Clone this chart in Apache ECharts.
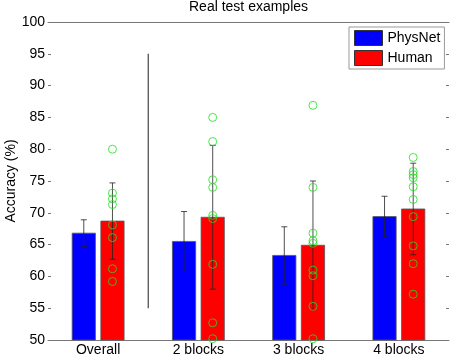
<!DOCTYPE html>
<html>
<head>
<meta charset="utf-8">
<script src="https://cdn.jsdelivr.net/npm/echarts@6/dist/echarts.min.js"></script>
<style>
  html, body { margin: 0; padding: 0; background: #fff; }
  #chart { width: 457px; height: 362px; }
</style>
</head>
<body>
<div id="chart"></div>
<script>
// data
var categories = ['Overall', '2 blocks', '3 blocks', '4 blocks'];
var catX = [1, 2, 3, 4];
var physnetMean = [66.8, 65.5, 63.3, 69.4];
var physnetErr = [2.1, 4.7, 4.5, 3.2];
var humanMean = [68.7, 69.3, 64.9, 70.6];
var humanErr = [6.0, 11.3, 10.1, 7.2];
var humanSubjects = [
    [80.0, 73.1, 72.2, 71.3, 68.1, 66.1, 61.2, 59.2],
    [85.0, 81.2, 75.2, 74.0, 69.6, 69.1, 61.9, 52.7, 50.2],
    [86.9, 74.0, 66.8, 65.6, 65.2, 61.0, 60.1, 55.3, 50.2],
    [78.7, 76.5, 76.0, 75.5, 74.1, 72.1, 69.4, 64.8, 62.0, 57.2]
];
var dividerX = [1.5, 1.5];
var dividerY = [55, 95];

var FONT = 'Liberation Sans, Arial, Helvetica, sans-serif';
var BAR_OFFSET = 0.143;
var BAR_W = 0.232;

var chart = echarts.init(document.getElementById('chart'));

// bar + error bar drawn through the axes
function barWithError(offset, fillColor) {
    return function (params, api) {
        var x = api.value(0) + offset;
        var mean = api.value(1);
        var err = api.value(2);
        var tl = api.coord([x - BAR_W / 2, mean]);
        var br = api.coord([x + BAR_W / 2, 50]);
        var top = api.coord([x, mean + err]);
        var bot = api.coord([x, mean - err]);
        var cap = 3;
        var errStyle = { stroke: '#222', lineWidth: 0.8 };
        return {
            type: 'group',
            children: [
                {
                    type: 'rect',
                    shape: { x: tl[0], y: tl[1], width: br[0] - tl[0], height: br[1] - tl[1] },
                    style: { fill: fillColor, stroke: '#555', lineWidth: 0.8 }
                },
                { type: 'line', shape: { x1: top[0], y1: top[1], x2: bot[0], y2: bot[1] }, style: errStyle },
                { type: 'line', shape: { x1: top[0] - cap, y1: top[1], x2: top[0] + cap, y2: top[1] }, style: errStyle },
                { type: 'line', shape: { x1: bot[0] - cap, y1: bot[1], x2: bot[0] + cap, y2: bot[1] }, style: errStyle }
            ]
        };
    };
}

var physnetData = catX.map(function (x, i) { return [x, physnetMean[i], physnetErr[i]]; });
var humanData = catX.map(function (x, i) { return [x, humanMean[i], humanErr[i]]; });
var subjectData = [];
humanSubjects.forEach(function (vals, i) {
    vals.forEach(function (v) { subjectData.push([catX[i] + BAR_OFFSET, v]); });
});

var option = {
    animation: false,
    textStyle: { fontFamily: FONT },
    title: {
        text: 'Real test examples',
        left: 189,
        top: 0,
        padding: 0,
        textStyle: { fontSize: 14, fontWeight: 'normal', color: '#000', fontFamily: FONT }
    },
    legend: {
        orient: 'vertical',
        left: 349,
        top: 27,
        padding: [3, 4, 3, 5],
        itemWidth: 28,
        itemHeight: 15,
        itemGap: 4,
        backgroundColor: '#fff',
        borderColor: '#999',
        borderWidth: 1,
        borderRadius: 0,
        textStyle: { fontSize: 14, color: '#000', fontFamily: FONT },
        data: [
            { name: 'PhysNet', icon: 'rect', itemStyle: { color: '#0000ff', borderColor: '#333', borderWidth: 1 } },
            { name: 'Human', icon: 'rect', itemStyle: { color: '#ff0000', borderColor: '#333', borderWidth: 1 } }
        ]
    },
    grid: { left: 48, right: 8, top: 22, bottom: 22, containLabel: false, outerBoundsMode: 'none' },
    xAxis: [
        {
            type: 'value',
            min: 0.5,
            max: 4.5,
            interval: 0.5,
            splitLine: { show: false },
            axisLine: { show: true, lineStyle: { color: '#777', width: 1 } },
            axisTick: { show: false },
            axisLabel: {
                margin: 3,
                fontSize: 14,
                color: '#000',
                fontFamily: FONT,
                formatter: function (v) {
                    var i = catX.indexOf(v);
                    return i >= 0 ? categories[i] : '';
                }
            }
        },
        {
            type: 'value',
            position: 'top',
            min: 0.5,
            max: 4.5,
            interval: 0.5,
            splitLine: { show: false },
            axisLine: { show: true, onZero: false, lineStyle: { color: '#777', width: 1 } },
            axisTick: { show: false },
            axisLabel: { show: false }
        }
    ],
    yAxis: [
        {
            type: 'value',
            min: 50,
            max: 100,
            interval: 5,
            name: 'Accuracy (%)',
            nameLocation: 'middle',
            nameRotate: 90,
            nameGap: 30,
            nameMoveOverlap: false,
            nameTextStyle: { fontSize: 14, color: '#000', fontFamily: FONT },
            splitLine: { show: false },
            axisLine: { show: false },
            axisTick: { show: true, inside: true, length: 3, lineStyle: { color: '#777' } },
            axisLabel: { margin: 3, fontSize: 14, color: '#000', fontFamily: FONT }
        },
        {
            type: 'value',
            position: 'right',
            min: 50,
            max: 100,
            interval: 5,
            splitLine: { show: false },
            axisLine: { show: false },
            axisTick: { show: true, inside: true, length: 3, lineStyle: { color: '#777' } },
            axisLabel: { show: false }
        }
    ],
    series: [
        {
            name: 'PhysNet',
            type: 'custom',
            renderItem: barWithError(-BAR_OFFSET, '#0000ff'),
            itemStyle: { color: '#0000ff' },
            encode: { x: 0, y: 1 },
            data: physnetData,
            z: 2
        },
        {
            name: 'Human',
            type: 'custom',
            renderItem: barWithError(BAR_OFFSET, '#ff0000'),
            itemStyle: { color: '#ff0000' },
            encode: { x: 0, y: 1 },
            data: humanData,
            z: 2
        },
        {
            name: 'subjects',
            type: 'scatter',
            symbol: 'circle',
            symbolSize: 8,
            clip: false,
            itemStyle: { color: 'rgba(0,0,0,0)', borderColor: '#22dd22', borderWidth: 1 },
            data: subjectData,
            z: 4
        },
        {
            name: 'divider',
            type: 'line',
            symbol: 'none',
            lineStyle: { color: '#444', width: 1.2 },
            data: dividerX.map(function (x, i) { return [x, dividerY[i]]; }),
            z: 1
        }
    ]
};

chart.setOption(option);
</script>
</body>
</html>
